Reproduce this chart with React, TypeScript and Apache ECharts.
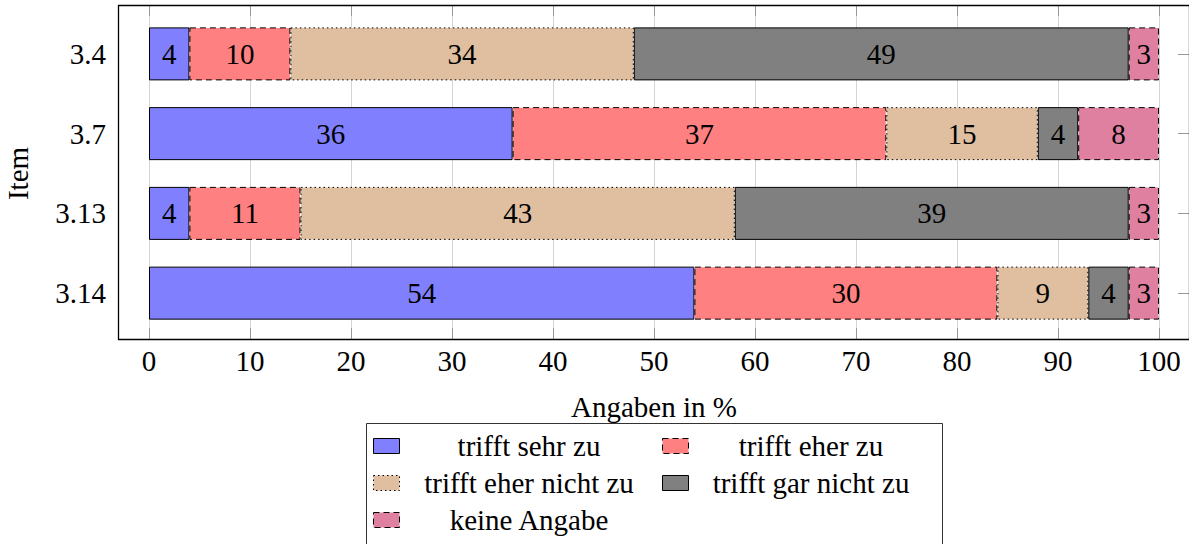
import React, { useEffect, useRef } from "react";
import * as echarts from "echarts";

const categories = ["3.4", "3.7", "3.13", "3.14"];
const seriesNames = [
  "trifft sehr zu",
  "trifft eher zu",
  "trifft eher nicht zu",
  "trifft gar nicht zu",
  "keine Angabe",
];
const sehrZu = [4, 36, 4, 54];
const eherZu = [10, 37, 11, 30];
const eherNichtZu = [34, 15, 43, 9];
const garNichtZu = [49, 4, 39, 4];
const keineAngabe = [3, 8, 3, 3];
const xTicks = [0, 100, 10];

const FONT = "serif";
const FS = 29;

export default function App() {
  const ref = useRef<HTMLDivElement>(null);
  useEffect(() => {
    document.body.style.margin = "0";
    const chart = echarts.init(ref.current!, null, { renderer: "svg" });
    const values = [sehrZu, eherZu, eherNichtZu, garNichtZu, keineAngabe];
    const fills = ["#8080ff", "#ff8080", "#dfbf9f", "#808080", "#df80a0"];
    const borders: any[] = ["solid", [6, 4], [1.5, 3], "solid", [6, 4]];
    const series: any[] = values.map((v, i) => ({
      name: seriesNames[i],
      type: "bar",
      stack: "total",
      xAxisIndex: 2,
      yAxisIndex: 1,
      barWidth: 53,
      data: v,
      itemStyle: {
        color: fills[i],
        borderColor: "#000",
        borderWidth: 1,
        borderType: borders[i],
      },
      label: {
        show: true,
        position: "inside",
        color: "#000",
        fontFamily: FONT,
        fontSize: FS,
      },
    }));

    // legend drawn as graphic elements (two columns, centred text)
    const colX = [373, 662];
    const textCX = [529, 811];
    const rowY = [446, 483, 520];
    const legendEls: any[] = [
      {
        type: "rect",
        shape: { x: 366.5, y: 423.5, width: 576, height: 140 },
        style: { fill: "#fff", stroke: "#333", lineWidth: 1 },
        z: 10,
        silent: true,
      },
    ];
    seriesNames.forEach((name, i) => {
      const c = i % 2;
      const r = Math.floor(i / 2);
      legendEls.push({
        type: "rect",
        shape: { x: colX[c] + 0.5, y: rowY[r] - 7.5, width: 26, height: 15 },
        style: {
          fill: fills[i],
          stroke: "#000",
          lineWidth: 1,
          lineDash: Array.isArray(borders[i]) ? borders[i] : null,
        },
        z: 11,
        silent: true,
      });
      legendEls.push({
        type: "text",
        x: textCX[c],
        y: rowY[r],
        scaleX: 1.45,
        scaleY: 1.45,
        style: {
          text: name,
          fontFamily: FONT,
          fontSize: 20,
          fill: "#000",
          align: "center",
          verticalAlign: "middle",
        },
        z: 11,
        silent: true,
      });
    });

    const gridLeft = 149;
    const gridWidth = 1010;
    chart.setOption({
      animation: false,
      grid: [
        { left: gridLeft, width: gridWidth, top: 5, height: 334, outerBoundsMode: "none" },
        { left: gridLeft, width: gridWidth, top: 14, height: 319, outerBoundsMode: "none" },
      ],
      xAxis: [
        {
          type: "value",
          gridIndex: 0,
          position: "bottom",
          min: xTicks[0],
          max: xTicks[1],
          interval: xTicks[2],
          axisLine: { show: false },
          axisTick: { show: true, inside: true, length: 11, lineStyle: { color: "#999" } },
          axisLabel: {
            color: "#000",
            fontSize: FS,
            fontFamily: FONT,
            margin: 7,
          },
          splitLine: { show: true, lineStyle: { color: "#d4d4d4", width: 1 } },
          name: "Angaben in %",
          nameLocation: "middle",
          nameGap: 68,
          nameTextStyle: {
            color: "#000",
            fontSize: FS,
            fontFamily: FONT,
            align: "center",
            verticalAlign: "middle",
          },
        },
        {
          type: "value",
          gridIndex: 0,
          position: "top",
          min: xTicks[0],
          max: xTicks[1],
          interval: xTicks[2],
          axisLine: { show: false },
          axisTick: { show: true, inside: true, length: 11, lineStyle: { color: "#999" } },
          axisLabel: { show: false },
          splitLine: { show: false },
        },
        {
          type: "value",
          gridIndex: 1,
          min: xTicks[0],
          max: xTicks[1],
          show: false,
        },
      ],
      yAxis: [
        { type: "value", gridIndex: 0, min: 0, max: 1, show: false },
        {
          type: "category",
          gridIndex: 1,
          data: categories,
          inverse: true,
          position: "left",
          offset: 31,
          axisLine: { show: false },
          axisTick: { show: true, inside: true, length: 12, alignWithLabel: true, lineStyle: { color: "#999" } },
          axisLabel: {
            color: "#000",
            fontSize: FS,
            fontFamily: FONT,
            margin: 12,
          },
          name: "Item",
          nameLocation: "middle",
          nameGap: 86,
          nameTextStyle: { color: "#000", fontSize: FS, fontFamily: FONT },
        },
        {
          type: "category",
          gridIndex: 1,
          data: categories,
          inverse: true,
          position: "right",
          offset: 30,
          axisLine: { show: false },
          axisTick: { show: true, inside: true, length: 11, alignWithLabel: true, lineStyle: { color: "#999" } },
          axisLabel: { show: false },
        },
      ],
      graphic: [
        {
          type: "rect",
          shape: { x: 118.5, y: 5.5, width: 1071, height: 334 },
          style: { fill: "none", stroke: "#000", lineWidth: 1.3 },
          z: 100,
          silent: true,
        },
        ...legendEls,
      ],
      series,
    });
    return () => chart.dispose();
  }, []);
  return <div ref={ref} style={{ width: 1189, height: 544 }} />;
}
